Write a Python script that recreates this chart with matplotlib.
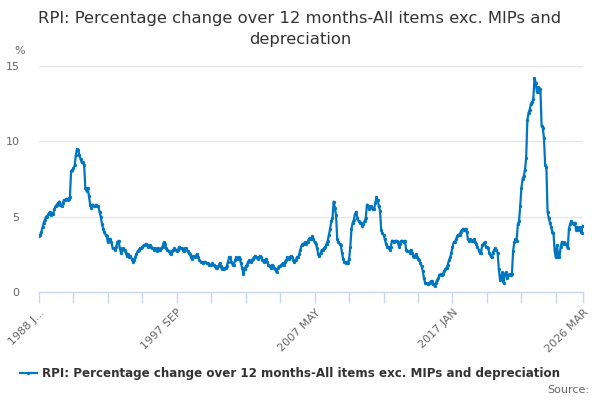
import matplotlib
matplotlib.use("Agg")
import matplotlib.pyplot as plt
import numpy as np
import pandas as pd

title = "RPI: Percentage change over 12 months-All items exc. MIPs and\ndepreciation"
series_name = "RPI: Percentage change over 12 months-All items exc. MIPs and depreciation"
start_month = "1988-01"

# Monthly values, one row per year
v1988 = [3.7, 3.8, 4.0, 4.3, 4.6, 4.8, 5.0, 5.0, 5.2, 5.3, 5.1, 5.2]
v1989 = [5.2, 5.5, 5.7, 5.8, 5.9, 6.0, 5.8, 5.7, 5.9, 6.1, 6.1, 6.2]
v1990 = [6.1, 6.2, 6.3, 8.0, 8.1, 8.2, 8.4, 9.1, 9.5, 9.4, 9.1, 8.8]
v1991 = [8.6, 8.6, 8.4, 6.9, 6.7, 6.9, 6.4, 5.8, 5.6, 5.8, 5.7, 5.7]
v1992 = [5.8, 5.7, 5.7, 5.3, 5.0, 4.5, 4.2, 4.0, 3.8, 3.7, 3.3, 3.5]
v1993 = [3.5, 3.3, 2.9, 2.9, 2.8, 3.0, 3.3, 3.4, 2.9, 2.6, 2.8, 2.9]
v1994 = [2.8, 2.6, 2.4, 2.5, 2.3, 2.4, 2.2, 2.0, 2.1, 2.3, 2.5, 2.7]
v1995 = [2.8, 2.9, 2.9, 3.0, 3.1, 3.1, 3.2, 3.1, 3.0, 3.1, 3.0, 2.9]
v1996 = [2.9, 2.8, 2.9, 2.7, 2.9, 2.8, 2.8, 2.9, 3.0, 3.3, 3.2, 2.9]
v1997 = [2.8, 2.7, 2.6, 2.5, 2.7, 2.8, 2.9, 2.8, 2.7, 2.8, 3.0, 2.9]
v1998 = [2.9, 2.8, 2.7, 2.9, 2.9, 2.7, 2.6, 2.5, 2.3, 2.2, 2.4, 2.3]
v1999 = [2.4, 2.5, 2.3, 2.1, 2.0, 2.0, 1.9, 2.0, 2.0, 1.9, 1.9, 1.8]
v2000 = [1.8, 1.8, 1.9, 1.8, 1.7, 1.6, 1.6, 1.7, 1.9, 1.7, 1.5, 1.6]
v2001 = [1.5, 1.6, 1.7, 2.0, 2.3, 2.3, 2.0, 1.8, 1.8, 2.1, 2.3, 2.2]
v2002 = [2.3, 2.2, 1.9, 1.6, 1.2, 1.5, 1.7, 1.8, 2.0, 2.1, 2.0, 2.1]
v2003 = [2.2, 2.3, 2.4, 2.3, 2.2, 2.3, 2.4, 2.3, 2.1, 2.0, 2.1, 2.2]
v2004 = [2.0, 1.8, 1.7, 1.6, 1.8, 1.7, 1.6, 1.5, 1.3, 1.6, 1.7, 1.7]
v2005 = [1.8, 1.9, 1.8, 2.0, 2.1, 2.3, 2.2, 2.3, 2.4, 2.3, 2.1, 2.0]
v2006 = [2.1, 2.3, 2.3, 2.5, 2.8, 3.1, 3.2, 3.2, 3.3, 3.2, 3.3, 3.5]
v2007 = [3.6, 3.5, 3.7, 3.5, 3.3, 3.2, 2.9, 2.5, 2.4, 2.6, 2.8, 2.8]
v2008 = [2.9, 3.0, 3.2, 3.4, 3.8, 4.2, 4.7, 4.9, 6.0, 5.6, 5.1, 3.5]
v2009 = [3.3, 3.2, 3.1, 2.6, 2.2, 2.0, 1.9, 2.0, 1.9, 2.2, 3.0, 4.2]
v2010 = [4.6, 4.8, 5.2, 5.3, 4.9, 4.7, 4.6, 4.6, 4.4, 4.5, 4.7, 4.9]
v2011 = [5.8, 5.7, 5.5, 5.7, 5.6, 5.5, 5.5, 5.9, 6.3, 6.1, 5.7, 5.4]
v2012 = [4.1, 3.9, 3.8, 3.5, 3.2, 3.0, 3.0, 2.8, 3.0, 3.4, 3.4, 3.3]
v2013 = [3.4, 3.4, 3.3, 3.0, 3.2, 3.4, 3.4, 3.3, 3.4, 2.8, 2.7, 2.7]
v2014 = [2.6, 2.8, 2.6, 2.4, 2.3, 2.5, 2.3, 2.2, 2.1, 1.9, 1.7, 1.4]
v2015 = [0.9, 0.6, 0.6, 0.5, 0.6, 0.6, 0.7, 0.7, 0.5, 0.4, 0.6, 0.8]
v2016 = [0.9, 1.1, 1.2, 1.1, 1.2, 1.4, 1.5, 1.6, 1.8, 2.1, 2.3, 2.6]
v2017 = [3.0, 3.3, 3.3, 3.5, 3.7, 3.8, 3.8, 4.0, 4.1, 4.2, 4.1, 4.2]
v2018 = [4.0, 3.5, 3.4, 3.5, 3.4, 3.4, 3.5, 3.3, 3.2, 3.0, 2.8, 2.6]
v2019 = [2.6, 3.1, 3.2, 3.3, 3.0, 3.0, 2.9, 2.6, 2.4, 2.3, 2.6, 2.8]
v2020 = [2.9, 2.8, 2.6, 1.5, 0.8, 1.0, 1.3, 0.6, 1.2, 1.3, 0.9, 1.1]
v2021 = [1.2, 1.1, 1.2, 2.7, 3.3, 3.5, 3.4, 4.5, 4.7, 5.7, 6.9, 7.5]
v2022 = [7.7, 8.1, 8.9, 11.4, 11.9, 12.1, 12.5, 12.6, 12.8, 14.2, 13.9, 13.3]
v2023 = [13.6, 13.3, 13.5, 11.0, 10.9, 10.2, 8.4, 8.3, 5.3, 4.9, 4.6, 4.3]
v2024 = [4.0, 3.9, 2.7, 2.3, 3.1, 2.3, 2.3, 3.0, 3.3, 3.2, 3.3, 3.2]
v2025 = [3.2, 2.9, 4.2, 4.5, 4.7, 4.6, 4.5, 4.6, 4.1, 4.3, 4.1, 4.3]
v2026 = [4.0, 3.9, 4.4]

values = (v1988 + v1989 + v1990 + v1991 + v1992 + v1993 + v1994 + v1995 + v1996
          + v1997 + v1998 + v1999 + v2000 + v2001 + v2002 + v2003 + v2004 + v2005
          + v2006 + v2007 + v2008 + v2009 + v2010 + v2011 + v2012 + v2013 + v2014
          + v2015 + v2016 + v2017 + v2018 + v2019 + v2020 + v2021 + v2022 + v2023
          + v2024 + v2025 + v2026)

tick_labels = ["1988 J...", "1997 SEP", "2007 MAY", "2017 JAN", "2026 MAR"]
y_ticks = [0, 5, 10, 15]

n = len(values)
x = np.arange(n)

fig = plt.figure(figsize=(6, 4), dpi=100)
ax = fig.add_axes([0.065, 0.27, 0.907, 0.565])

line_color = "#0076c0"
ax.plot(x, values, color=line_color, lw=1.6, marker="o", ms=2.4,
        markeredgewidth=0, zorder=3, label=series_name)

ax.set_xlim(0, n - 1)
ax.set_ylim(0, 15)

for yv in y_ticks[1:]:
    ax.axhline(yv, color="#e6e6e6", lw=1, zorder=1)

ax.set_yticks(y_ticks)
ax.set_yticklabels([str(t) for t in y_ticks])
ax.tick_params(axis="y", length=0, pad=14, labelsize=8, labelcolor="#666666")

# x ticks every 29 months plus the last month
minor = list(range(0, n - 1, 29)) + [n - 1]
ax.set_xticks(minor)
lab_pos = [0, 116, 232, 348, n - 1]
labels = []
for p in minor:
    if p in lab_pos:
        labels.append(tick_labels[lab_pos.index(p)])
    else:
        labels.append("")
ax.set_xticklabels(labels, rotation=45, ha="right", rotation_mode="anchor")
ax.tick_params(axis="x", length=8, color="#ccd6eb", width=1, labelsize=8,
               labelcolor="#666666", pad=3)

for s in ["top", "right", "left"]:
    ax.spines[s].set_visible(False)
ax.spines["bottom"].set_color("#ccd6eb")
ax.spines["bottom"].set_linewidth(1)

fig.text(0.5, 0.972, title, ha="center", va="top", fontsize=11.8,
         color="#333333", linespacing=1.5)
fig.text(0.024, 0.872, "%", fontsize=8, color="#666666", ha="left", va="center")

leg = fig.legend(loc="center", bbox_to_anchor=(0.483, 0.067), frameon=False,
                 prop={"weight": "bold", "size": 8.6}, handlelength=1.4,
                 handletextpad=0.4)
for t in leg.get_texts():
    t.set_color("#333333")

fig.text(0.982, 0.025, "Source:", ha="right", va="center", fontsize=8,
         color="#666666")

fig.savefig("out.png", dpi=100)
